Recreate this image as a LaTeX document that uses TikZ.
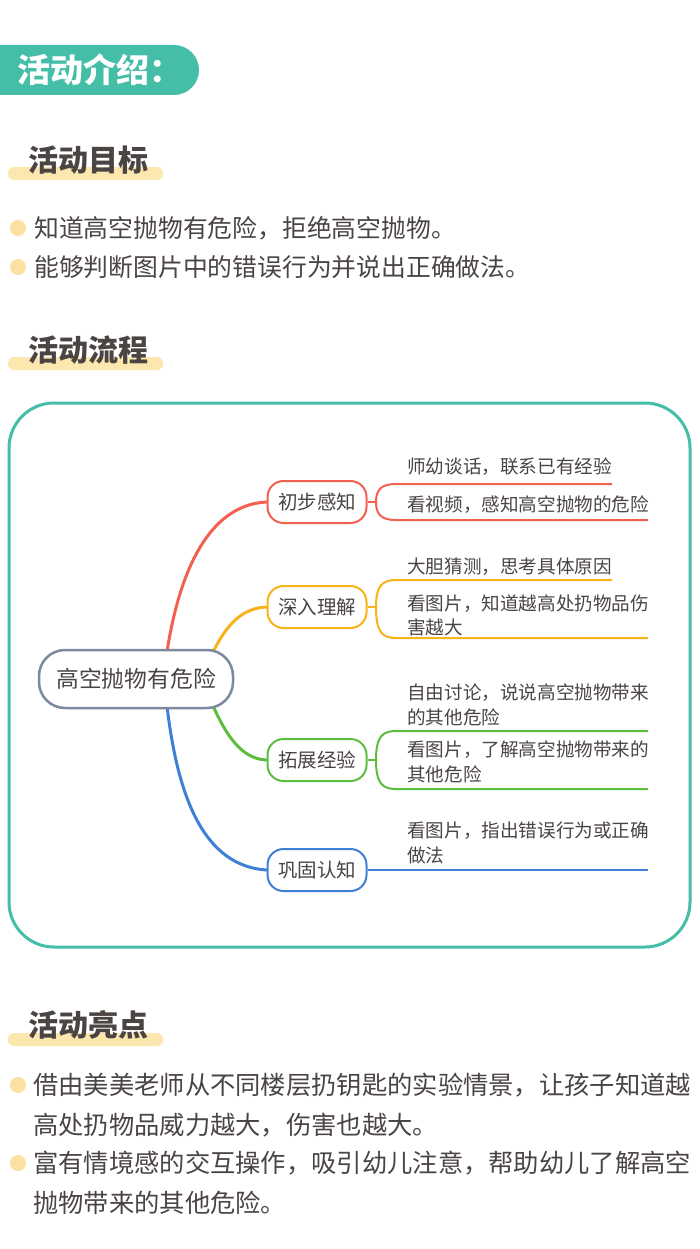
\documentclass[tikz,border=0pt]{standalone}
\usepackage{fontspec}
\setmainfont{Noto Sans CJK SC}
\definecolor{teal}{HTML}{44BEA6}
\definecolor{txt}{HTML}{4A4443}
\definecolor{hl}{HTML}{FCE7AF}
\definecolor{dotc}{HTML}{FDE1A2}
\definecolor{cred}{HTML}{F4604F}
\definecolor{corange}{HTML}{F9B31A}
\definecolor{cgreen}{HTML}{5DBE3E}
\definecolor{cblue}{HTML}{3E80D5}
\definecolor{ccent}{HTML}{7D899E}
\tikzset{
  hdr/.style={anchor=west, inner sep=0pt, text=txt, font=\bfseries\fontsize{30}{30}\selectfont},
  hlbar/.style={fill=hl, rounded corners=6pt},
  bdot/.style={fill=dotc},
  btxt/.style={anchor=west, inner sep=0pt, text=txt, font=\fontsize{24.8}{24.8}\selectfont},
  btxtb/.style={anchor=west, inner sep=0pt, text=txt, font=\fontsize{25.3}{25.3}\selectfont},
  branchbox/.style={draw, line width=2pt, rounded corners=16pt, fill=white, minimum width=99pt, minimum height=42pt, inner sep=0pt, text=txt, font=\fontsize{19.5}{19.5}\selectfont},
  subtxt/.style={anchor=west, inner sep=0pt, text=txt, font=\fontsize{18.6}{18.6}\selectfont},
  mainline/.style={line width=3pt, line cap=round},
  subline/.style={line width=2pt},
}
\begin{document}
\begin{tikzpicture}[x=1pt, y=-1pt]
\fill[white] (0,0) rectangle (700,1249);
\useasboundingbox (0,0) rectangle (700,1249);

% title
\fill[teal, rounded corners=25pt] (-40,45) rectangle (199,95);
\node[anchor=west, inner sep=0pt, text=white, font=\bfseries\fontsize{33}{33}\selectfont] (title) at (17,70) {活动介绍：};

% section 1
\fill[hlbar] (8,167) rectangle (163,180);
\node[hdr] (h1) at (28,160) {活动目标};
\fill[bdot] (18,228) circle (8pt);
\fill[bdot] (18,267) circle (8pt);
\node[btxt] (g1) at (34,228) {知道高空抛物有危险，拒绝高空抛物。};
\node[btxt] (g2) at (34,267) {能够判断图片中的错误行为并说出正确做法。};

% section 2
\fill[hlbar] (8,357) rectangle (163,370);
\node[hdr] (h2) at (28,350) {活动流程};
\draw[teal, line width=3pt, rounded corners=45pt] (9,403) rectangle (690,947);

% mind map main lines
\coordinate (r0) at (167,652);
\coordinate (o0) at (213,652);
\coordinate (g0) at (213,706);
\coordinate (bl0) at (167,706);
\node[branchbox, draw=cred] (b1) at (317,502) {初步感知};
\node[branchbox, draw=corange] (b2) at (317,607) {深入理解};
\node[branchbox, draw=cgreen] (b3) at (317,760) {拓展经验};
\node[branchbox, draw=cblue] (b4) at (317,870) {巩固认知};
\draw[mainline, cred] (r0) .. controls (178,580) and (205,505) .. (b1.west);
\draw[mainline, corange] (o0) .. controls (225,628) and (240,608) .. (b2.west);
\draw[mainline, cgreen] (g0) .. controls (225,732) and (240,759) .. (b3.west);
\draw[mainline, cblue] (bl0) .. controls (178,800) and (205,866) .. (b4.west);
\node[draw=ccent, line width=2.5pt, rounded corners=26pt, fill=white, minimum width=194pt, minimum height=58pt, inner sep=0pt, text=txt, font=\fontsize{22.8}{22.8}\selectfont] (c) at (136,679) {高空抛物有危险};

% branch 1
\coordinate (j1) at (376,502);
\coordinate (u1a) at (396,484); \coordinate (u1b) at (612,484);
\coordinate (l1a) at (396,520); \coordinate (l1b) at (648,520);
\draw[subline, cred] (b1.east) -- (j1);
\draw[subline, cred] (j1) .. controls (376,489) and (382,484) .. (u1a) -- (u1b);
\draw[subline, cred] (j1) .. controls (376,515) and (382,520) .. (l1a) -- (l1b);
\node[subtxt] (t11) at (407,467) {师幼谈话，联系已有经验};
\node[subtxt] (t12) at (407,505) {看视频，感知高空抛物的危险};

% branch 2
\coordinate (j2) at (376,607);
\coordinate (u2a) at (396,580); \coordinate (u2b) at (612,580);
\coordinate (l2a) at (396,638); \coordinate (l2b) at (648,638);
\draw[subline, corange] (b2.east) -- (j2);
\draw[subline, corange] (j2) .. controls (376,586) and (382,580) .. (u2a) -- (u2b);
\draw[subline, corange] (j2) .. controls (376,632) and (382,638) .. (l2a) -- (l2b);
\node[subtxt] (t21) at (407,567) {大胆猜测，思考具体原因};
\node[subtxt] (t22) at (407,604) {看图片，知道越高处扔物品伤};
\node[subtxt] (t23) at (407,627) {害越大};

% branch 3
\coordinate (j3) at (376,760);
\coordinate (u3a) at (396,731); \coordinate (u3b) at (648,731);
\coordinate (l3a) at (396,789); \coordinate (l3b) at (648,789);
\draw[subline, cgreen] (b3.east) -- (j3);
\draw[subline, cgreen] (j3) .. controls (376,737) and (382,731) .. (u3a) -- (u3b);
\draw[subline, cgreen] (j3) .. controls (376,783) and (382,789) .. (l3a) -- (l3b);
\node[subtxt] (t31) at (407,693) {自由讨论，说说高空抛物带来};
\node[subtxt] (t32) at (407,717) {的其他危险};
\node[subtxt] (t33) at (407,750) {看图片，了解高空抛物带来的};
\node[subtxt] (t34) at (407,774) {其他危险};

% branch 4
\coordinate (l4b) at (648,870);
\draw[subline, cblue] (b4.east) -- (l4b);
\node[subtxt] (t41) at (407,831) {看图片，指出错误行为或正确};
\node[subtxt] (t42) at (407,855) {做法};

% section 3
\fill[hlbar] (8,1033) rectangle (163,1046);
\node[hdr] (h3) at (28,1025) {活动亮点};
\fill[bdot] (18,1085) circle (8pt);
\fill[bdot] (18,1163) circle (8pt);
\node[btxtb] (p1) at (33,1085) {借由美美老师从不同楼层扔钥匙的实验情景，让孩子知道越};
\node[btxtb] (p2) at (33,1125) {高处扔物品威力越大，伤害也越大。};
\node[btxtb] (p3) at (33,1163) {富有情境感的交互操作，吸引幼儿注意，帮助幼儿了解高空};
\node[btxtb] (p4) at (33,1203) {抛物带来的其他危险。};
\end{tikzpicture}
\end{document}
